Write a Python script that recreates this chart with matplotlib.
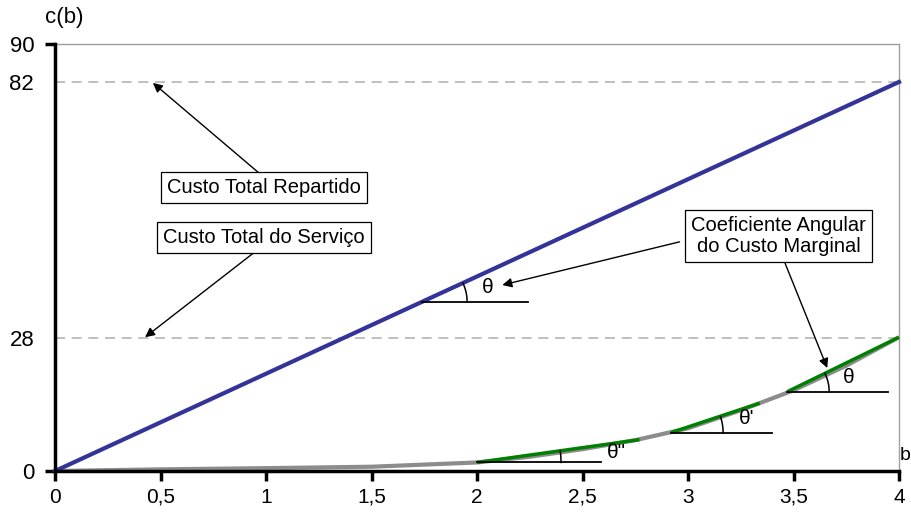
import numpy as np
import matplotlib.pyplot as plt

plt.rcParams['font.family'] = ['Liberation Sans', 'DejaVu Sans']

# curva do custo total repartido (reta)
b_total = [0, 4]
c_total = [0, 82]

# curva do custo total do servico
b_serv = [0, 0.5, 1, 1.5, 2, 2.25, 2.5, 2.75, 3, 3.25, 3.5, 3.75, 4]
c_serv = [0, 0.35, 0.6, 0.9, 1.8, 3.0, 4.6, 6.5, 9.0, 12.8, 17.0, 22.2, 28.2]

# tangentes (coeficiente angular do custo marginal)
tang_b = [[2.0, 2.77], [2.92, 3.34], [3.47, 4.0]]
tang_c = [[1.8, 6.6], [8.1, 14.3], [16.7, 28.2]]

# linhas horizontais de referencia dos angulos
base_b = [[1.74, 2.24], [2.0, 2.59], [2.92, 3.40], [3.47, 3.95]]
base_c = [35.6, 1.8, 8.0, 16.7]
arc_r = [45, 84, 52, 42]
ang_txt = ['θ', 'θ"', "θ'", 'θ']
ang_pos = [(2.05, 38.6), (2.66, 3.8), (3.28, 11.0), (3.76, 19.8)]

yticks = [0, 28, 82, 90]
xticks = [0, 0.5, 1, 1.5, 2, 2.5, 3, 3.5, 4]
xlabels = ['0', '0,5', '1', '1,5', '2', '2,5', '3', '3,5', '4']

W, H = 911, 518
fig = plt.figure(figsize=(W/100, H/100), dpi=100)
ax = fig.add_axes([55/W, 47/H, 844/W, 427/H])
ax.set_xlim(0, 4)
ax.set_ylim(0, 90)
sx = 844/4.0
sy = 427/90.0

# linhas tracejadas
for v in [82, 28]:
    ax.axhline(v, color='#b4b4b4', lw=1.2, ls=(0, (6, 4)), zorder=1)

ax.plot(b_serv, c_serv, color='#8c8c8c', lw=3, zorder=2, solid_capstyle='butt')
ax.plot(b_total, c_total, color='#333399', lw=3, zorder=3, clip_on=False)
for tb, tc in zip(tang_b, tang_c):
    ax.plot(tb, tc, color='#008000', lw=2.5, zorder=4, clip_on=False, solid_capstyle='butt')

# inclinacoes (em pixels) para os arcos
slopes = [(b_total[1]-b_total[0], c_total[1]-c_total[0])]
for tb, tc in zip(tang_b, tang_c):
    slopes.append((tb[1]-tb[0], tc[1]-tc[0]))

for bb, bc, r, (dx, dy), txt, pos in zip(base_b, base_c, arc_r, slopes, ang_txt, ang_pos):
    ax.plot(bb, [bc, bc], color='black', lw=1.3, zorder=5)
    a = np.arctan2(dy*sy, dx*sx)
    t = np.linspace(0, a, 30)
    ax.plot(bb[0] + r*np.cos(t)/sx, bc + r*np.sin(t)/sy, color='black', lw=1.1, zorder=5)
    ax.text(pos[0], pos[1], txt, fontsize=15, ha='center', va='center', zorder=6)

# caixas de texto
box = dict(boxstyle='square,pad=0.3', fc='white', ec='black', lw=0.9)
ax.text(0.99, 59.7, 'Custo Total Repartido', fontsize=14.5, ha='center', va='center', bbox=box, zorder=7)
ax.text(0.99, 49.3, 'Custo Total do Serviço', fontsize=14.5, ha='center', va='center', bbox=box, zorder=7)
ax.text(3.43, 49.5, 'Coeficiente Angular\ndo Custo Marginal', fontsize=14.5, ha='center', va='center',
        bbox=box, zorder=7, linespacing=1.1)

arrow = dict(arrowstyle='-|>', color='black', lw=1, mutation_scale=14, shrinkA=0, shrinkB=0)
ax.annotate('', xy=(0.464, 81.8), xytext=(0.967, 62.8), arrowprops=arrow, zorder=6)
ax.annotate('', xy=(0.427, 28.2), xytext=(0.948, 46.2), arrowprops=arrow, zorder=6)
ax.annotate('', xy=(2.12, 39.2), xytext=(2.96, 48.3), arrowprops=arrow, zorder=6)
ax.annotate('', xy=(3.66, 21.7), xytext=(3.46, 43.8), arrowprops=arrow, zorder=6)

# eixos
ax.spines['top'].set_color('#a0a0a0')
ax.spines['right'].set_color('#a0a0a0')
ax.spines['top'].set_linewidth(1)
ax.spines['right'].set_linewidth(1)
ax.spines['left'].set_linewidth(2.5)
ax.spines['bottom'].set_linewidth(2.5)
ax.spines['left'].set_zorder(8)
ax.spines['bottom'].set_zorder(8)

ax.set_yticks(yticks)
ax.set_yticklabels([str(v) for v in yticks])
ax.set_xticks(xticks)
ax.set_xticklabels(xlabels)
ax.tick_params(axis='both', direction='out', length=7, width=2.5, pad=8)
ax.tick_params(axis='y', labelsize=16)
ax.tick_params(axis='x', labelsize=15, pad=5)
yt = ax.yaxis.get_major_ticks()
yt[1].tick1line.set_visible(False)
yt[2].tick1line.set_visible(False)

fig.text(45/W, 1 - 18/H, 'c(b)', fontsize=16, ha='left', va='center')
fig.text(900/W, 1 - 455/H, 'b', fontsize=14, ha='left', va='center')

fig.savefig('out.png', dpi=100)
